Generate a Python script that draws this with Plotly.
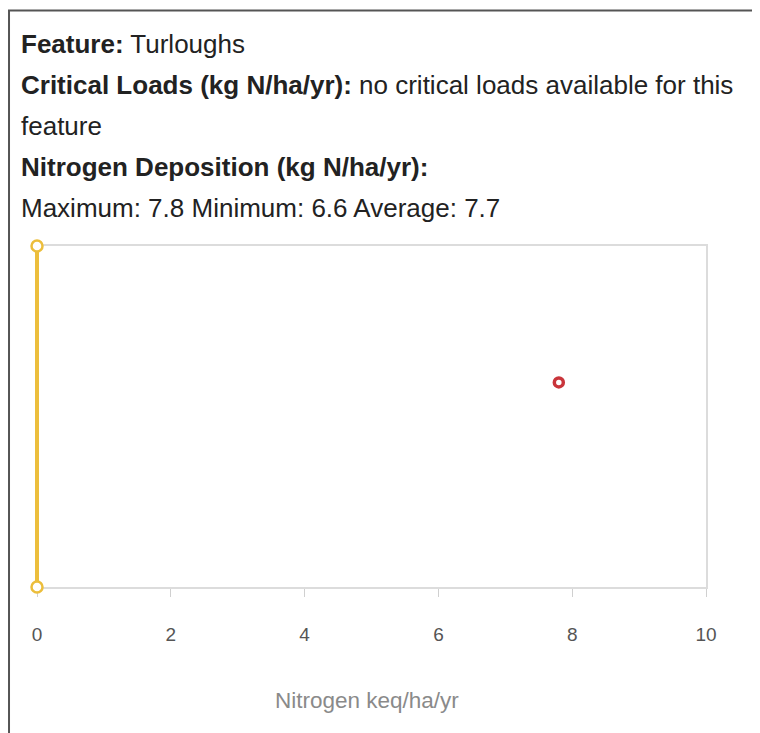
import plotly.graph_objects as go

# data
feature = "Turloughs"
dep_max, dep_min, dep_avg = 7.8, 6.6, 7.7
critical_x = [0, 0]
critical_y = [0, 1]
deposition_x = [7.8]
deposition_y = [0.6]
x_ticks = [0, 2, 4, 6, 8, 10]

# page body has an 8px margin, so the figure origin sits at (8, 8)
OFF = 8
W, H = 760, 733
X0_PX, X10_PX = 37, 706          # where x=0 and x=10 fall in the picture
XMIN = -0.06                     # a little room so the line at x=0 is not clipped
L = X0_PX + XMIN * (X10_PX - X0_PX) / 10 - OFF
R, T, B = X10_PX - OFF, 246 - OFF, 587 - OFF

def px(x):
    return (x - OFF - L) / (R - L)

def py(y):
    return (B - (y - OFF)) / (B - T)

FONT = "Arial, Liberation Sans, sans-serif"

fig = go.Figure()

fig.add_trace(go.Scatter(
    x=critical_x, y=critical_y, mode="lines+markers",
    line=dict(color="#ECBE3C", width=4),
    marker=dict(size=11, color="white", line=dict(color="#ECBE3C", width=2.5)),
    cliponaxis=False, hoverinfo="skip", showlegend=False,
))
fig.add_trace(go.Scatter(
    x=deposition_x, y=deposition_y, mode="markers",
    marker=dict(size=9, color="white", line=dict(color="#C9353B", width=3.5)),
    cliponaxis=False, showlegend=False,
))

lines = [
    ("<b>Feature:</b> " + feature, 44),
    ("<b>Critical Loads (kg N/ha/yr):</b> no critical loads available for this", 85),
    ("feature", 126),
    ("<b>Nitrogen Deposition (kg N/ha/yr):</b>", 167),
    (f"Maximum: {dep_max} Minimum: {dep_min} Average: {dep_avg}", 208),
]
for txt, yy in lines:
    fig.add_annotation(
        text=txt, x=px(19), y=py(yy), xref="paper", yref="paper",
        xanchor="left", yanchor="middle", showarrow=False,
        font=dict(family=FONT, size=26, color="#222"),
    )

fig.add_annotation(
    text="Nitrogen keq/ha/yr", x=px(367), y=py(700), xref="paper", yref="paper",
    xanchor="center", yanchor="middle", showarrow=False,
    font=dict(family=FONT, size=22.5, color="#8a8a8a"),
)

# outer box
fig.add_shape(type="line", xref="paper", yref="paper",
              x0=px(9), x1=px(9), y0=py(10), y1=py(745),
              line=dict(color="#555", width=2))
fig.add_shape(type="line", xref="paper", yref="paper",
              x0=px(8), x1=px(775), y0=py(10.5), y1=py(10.5),
              line=dict(color="#555", width=2))

fig.update_xaxes(
    range=[XMIN, 10], tickvals=x_ticks, showgrid=False, zeroline=False,
    showline=True, mirror=True, linecolor="#dcdcdc", linewidth=2,
    ticks="outside", ticklen=8, tickcolor="#d0d0d0", ticklabelstandoff=21,
    tickfont=dict(family=FONT, size=19, color="#555"),
    layer="below traces",
)
fig.update_yaxes(
    range=[0, 1], side="right", showgrid=False, zeroline=False, showticklabels=False,
    showline=True, mirror=False, linecolor="#dcdcdc", linewidth=2,
    layer="below traces",
)

fig.update_layout(
    width=W, height=H,
    margin=dict(l=L, r=W - R, t=T, b=H - B),
    paper_bgcolor="white", plot_bgcolor="white",
)

fig.write_html("out.html")
